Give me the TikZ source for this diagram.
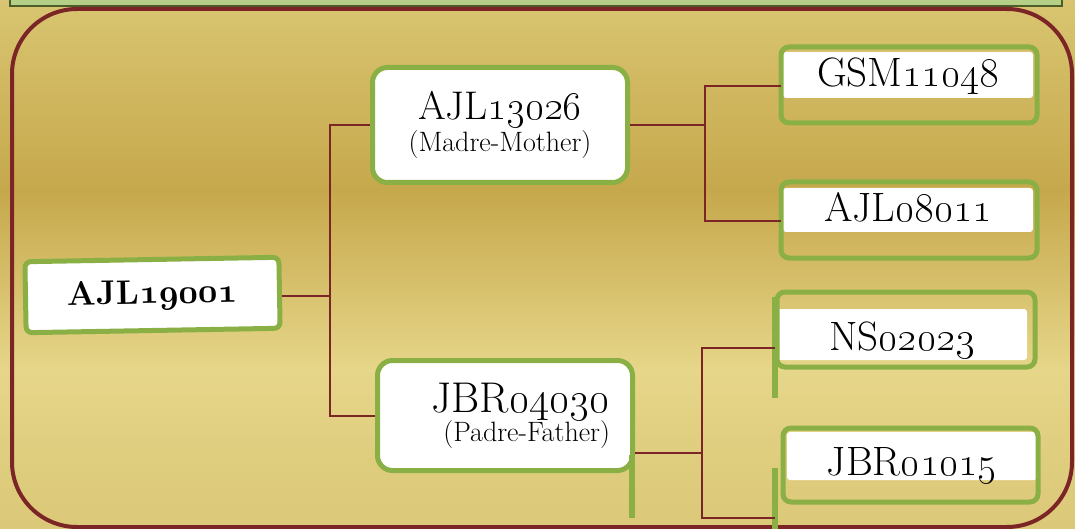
\RequirePackage{fix-cm}
\documentclass[tikz,border=0pt]{standalone}
\usepackage{tikz}
\usetikzlibrary{positioning, calc}
\definecolor{bgtop}{HTML}{D9C571}
\definecolor{bgdark}{HTML}{C6A84C}
\definecolor{bglight}{HTML}{E6D689}
\definecolor{bgbot}{HTML}{DBC878}
\definecolor{leafgreen}{HTML}{8AB045}
\definecolor{bargreen}{HTML}{B5CF86}
\definecolor{bardark}{HTML}{4B5E2A}
\definecolor{linkmaroon}{HTML}{7B2527}
\newcommand{\osn}[1]{\oldstylenums{#1}}
\newcommand{\osnb}[1]{{\usefont{OML}{cmm}{b}{it}#1}}
\pgfdeclareverticalshading{goldfade}{100bp}{color(0bp)=(bgbot); color(25bp)=(bgbot); color(32bp)=(bgbot!60!bglight); color(40bp)=(bglight); color(57bp)=(bgdark); color(66bp)=(bgdark!50!bgtop); color(75bp)=(bgtop); color(100bp)=(bgtop)}

\begin{document}
\begin{tikzpicture}[
  x=1pt, y=-1pt,
  rootbox/.style={
    rectangle, rounded corners=6pt, draw=leafgreen, line width=5pt, fill=white,
    minimum width=254pt, minimum height=71pt, inner sep=0pt,
    font=\fontsize{34}{38}\selectfont\bfseries
  },
  parentbox/.style={
    rectangle, rounded corners=15pt, draw=leafgreen, line width=5pt, fill=white,
    minimum width=255pt, inner sep=0pt,
    font=\fontsize{28}{32}\selectfont
  },
  leaflabel/.style={
    rectangle, rounded corners=3pt, fill=white, inner sep=0pt,
    minimum width=250pt, font=\fontsize{41}{44}\selectfont
  },
  leafframe/.style={draw=leafgreen, line width=5pt, rounded corners=8pt},
  stub/.style={draw=leafgreen, line width=6pt},
  link/.style={draw=linkmaroon, line width=2pt},
]
\useasboundingbox (0,0) rectangle (1075,529);

% Fondo
\shade[shading=goldfade] (0,0) rectangle (1075,529);
\draw[fill=bargreen, draw=bardark, line width=2.5pt] (10,-10) rectangle (1062,6);
\draw[linkmaroon, line width=4pt, rounded corners=65pt] (12,9) rectangle (1072,527);

% Nodos
\node[rootbox, rotate=1] (ajl19001) at (152.5,295) {AJL\osnb{19001}};
\node[parentbox, minimum height=115pt, align=center] (ajl13026) at (500,125)
  {{\fontsize{40}{32}\selectfont AJL\osn{13026}}\\(Madre-Mother)};
\node[parentbox, minimum height=110pt, text width=210pt, align=right] (jbr04030) at (505,415.5)
  {{\fontsize{43}{32}\selectfont JBR\osn{04030}}\\[-3pt](Padre-Father)};

\node[leaflabel, text height=35pt, text depth=11pt] (gsm11048) at (908,75) {GSM\osn{11048}};
\node[leaflabel, text height=34pt, text depth=10pt] (ajl08011) at (908,210) {AJL\osn{08011}};
\node[leaflabel, text height=41pt, text depth=10pt] (ns02023) at (902,334.5) {NS\osn{02023}};
\node[leaflabel, text height=43pt, text depth=5pt] (jbr01015) at (912,456) {JBR\osn{01015}};

% Marcos
\draw[leafframe] (781,47) rectangle (1037,123);
\draw[leafframe] (781,182) rectangle (1037,258);
\draw[leafframe] (777,292) rectangle (1035,367);
\draw[leafframe] (783,428) rectangle (1038,502);
\draw[stub] (632,455) -- (632,518);
\draw[stub] (775,297) -- (775,398);
\draw[stub] (775,468) -- (775,532);

% Conexiones
\coordinate (f1) at (330,296);
\coordinate (f2) at (705,125);
\coordinate (f3) at (702,453);
\coordinate (gsmin) at (781,86);
\coordinate (ajlin) at (781,221);
\coordinate (nsin) at (775,348);
\coordinate (jbrin) at (775,518);
\draw[link] (f1 -| ajl19001.east) -- (f1);
\draw[link] (ajl13026.west) -| (f1) |- (jbr04030.west);
\draw[link] (ajl13026.east) -- (f2);
\draw[link] (gsmin) -| (f2) |- (ajlin);
\draw[link] (f3 -| jbr04030.east) -- (f3);
\draw[link] (nsin) -| (f3) |- (jbrin);

\end{tikzpicture}
\end{document}
